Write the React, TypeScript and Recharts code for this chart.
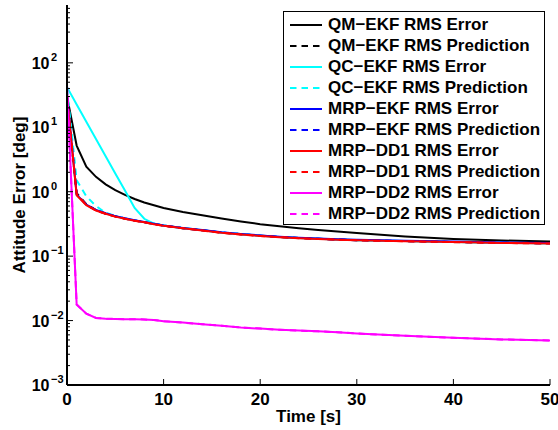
import { Line, LineChart, XAxis, YAxis, Legend } from "recharts"

// time samples [s]
const T = [0, 1, 2, 3, 4, 5, 6, 7, 8, 9, 10, 12, 14, 16, 18, 20, 22, 24, 26, 28, 30, 35, 40, 45, 50]

// RMS attitude errors / predictions [deg]
const qmErr = [30, 5.2, 2.45, 1.7, 1.3, 1.06, 0.89, 0.77, 0.68, 0.615, 0.56, 0.485, 0.43, 0.385, 0.345, 0.313, 0.292, 0.272, 0.255, 0.241, 0.228, 0.202, 0.185, 0.175, 0.168]
const qmPred = [28, 0.95, 0.64, 0.52, 0.455, 0.415, 0.382, 0.357, 0.336, 0.316, 0.298, 0.272, 0.252, 0.232, 0.219, 0.208, 0.198, 0.191, 0.186, 0.181, 0.177, 0.171, 0.166, 0.161, 0.158]
const qcErr = [42, 22.6, 12.2, 6.6, 3.56, 1.92, 1.04, 0.56, 0.38, 0.32, 0.3, 0.272, 0.252, 0.232, 0.219, 0.208, 0.198, 0.191, 0.186, 0.181, 0.177, 0.171, 0.166, 0.161, 0.158]
const qcPred = [40, 1.5, 0.85, 0.6, 0.47, 0.42, 0.385, 0.358, 0.337, 0.317, 0.299, 0.273, 0.253, 0.233, 0.22, 0.208, 0.198, 0.191, 0.186, 0.181, 0.177, 0.171, 0.166, 0.161, 0.158]
const ekfErr = [31, 0.9, 0.63, 0.52, 0.462, 0.418, 0.386, 0.36, 0.339, 0.318, 0.3, 0.274, 0.254, 0.234, 0.221, 0.21, 0.2, 0.193, 0.188, 0.183, 0.179, 0.173, 0.168, 0.163, 0.16]
const ekfPred = [29, 0.92, 0.63, 0.515, 0.458, 0.414, 0.383, 0.357, 0.336, 0.316, 0.298, 0.272, 0.252, 0.232, 0.219, 0.208, 0.198, 0.191, 0.186, 0.181, 0.177, 0.171, 0.166, 0.161, 0.158]
const dd1Err = [30, 0.88, 0.62, 0.51, 0.455, 0.41, 0.38, 0.355, 0.335, 0.313, 0.295, 0.27, 0.25, 0.23, 0.217, 0.206, 0.197, 0.19, 0.185, 0.18, 0.176, 0.17, 0.165, 0.16, 0.157]
const dd1Pred = [29, 0.93, 0.62, 0.51, 0.455, 0.41, 0.38, 0.355, 0.335, 0.313, 0.295, 0.27, 0.25, 0.23, 0.217, 0.206, 0.197, 0.19, 0.185, 0.18, 0.176, 0.17, 0.165, 0.16, 0.157]
const dd2Err = [44, 0.0178, 0.0128, 0.011, 0.0107, 0.0106, 0.0105, 0.0105, 0.0104, 0.0102, 0.0098, 0.0093, 0.0088, 0.0083, 0.0078, 0.0075, 0.0072, 0.007, 0.0068, 0.0066, 0.0063, 0.0058, 0.0054, 0.0051, 0.0049]
const dd2Pred = [44, 0.0178, 0.0128, 0.011, 0.0107, 0.0106, 0.0105, 0.0105, 0.0104, 0.0102, 0.0098, 0.0093, 0.0088, 0.0083, 0.0078, 0.0075, 0.0072, 0.007, 0.0068, 0.0066, 0.0063, 0.0058, 0.0054, 0.0051, 0.0049]

const X_TICKS = [0, 10, 20, 30, 40, 50]
const Y_MAJOR = [0.001, 0.01, 0.1, 1, 10, 100]
const Y_MAX = 790

const series = [
  { key: "qmErr", name: "QM\u2212EKF RMS Error", color: "#000000", dashed: false, values: qmErr },
  { key: "qmPred", name: "QM\u2212EKF RMS Prediction", color: "#000000", dashed: true, values: qmPred },
  { key: "qcErr", name: "QC\u2212EKF RMS Error", color: "#00ffff", dashed: false, values: qcErr },
  { key: "qcPred", name: "QC\u2212EKF RMS Prediction", color: "#00ffff", dashed: true, values: qcPred },
  { key: "ekfErr", name: "MRP\u2212EKF RMS Error", color: "#0000ff", dashed: false, values: ekfErr },
  { key: "ekfPred", name: "MRP\u2212EKF RMS Prediction", color: "#0000ff", dashed: true, values: ekfPred },
  { key: "dd1Err", name: "MRP\u2212DD1 RMS Error", color: "#ff0000", dashed: false, values: dd1Err },
  { key: "dd1Pred", name: "MRP\u2212DD1 RMS Prediction", color: "#ff0000", dashed: true, values: dd1Pred },
  { key: "dd2Err", name: "MRP\u2212DD2 RMS Error", color: "#ff00ff", dashed: false, values: dd2Err },
  { key: "dd2Pred", name: "MRP\u2212DD2 RMS Prediction", color: "#ff00ff", dashed: true, values: dd2Pred },
]

const data = T.map((t, i) => {
  const row: Record<string, number> = { t }
  series.forEach((s) => (row[s.key] = s.values[i]))
  return row
})

// log axis ticks: decades plus 2..9 minor ticks
const yTicks: number[] = []
Y_MAJOR.forEach((d) => {
  for (let m = 1; m <= 9; m++) {
    const v = d * m
    if (v <= Y_MAX) yTicks.push(v)
  }
})

const FONT = "'Liberation Sans', Arial, Helvetica, sans-serif"
const DASH = "6.5 5"

const isMajor = (v: number) => Math.abs(Math.log10(v) - Math.round(Math.log10(v))) < 1e-6

function LeftTick(props: any) {
  const { x, y, payload } = props
  const v = payload.value
  const major = isMajor(v)
  const e = Math.round(Math.log10(v))
  return (
    <g>
      <line x1={x} x2={x + (major ? 6 : 3)} y1={y} y2={y} stroke="#000" strokeWidth={1} />
      {major && (
        <>
          <text x={x - 17.5} y={y + 6} textAnchor="end" fontSize={16} fontWeight="bold" fill="#000" fontFamily={FONT}>
            10
          </text>
          <text x={x - 16} y={y - 2} textAnchor="start" fontSize={11} fontWeight="bold" fill="#000" fontFamily={FONT}>
            {e < 0 ? "\u2212" + Math.abs(e) : String(e)}
          </text>
        </>
      )}
    </g>
  )
}

function RightTick(props: any) {
  const { x, y, payload } = props
  const major = isMajor(payload.value)
  return <line x1={x} x2={x - (major ? 6 : 3)} y1={y} y2={y} stroke="#000" strokeWidth={1} />
}

function BottomTick(props: any) {
  const { x, y, payload } = props
  return (
    <g>
      <line x1={x} x2={x} y1={y} y2={y - 6} stroke="#000" strokeWidth={1} />
      <text x={x} y={y + 20} textAnchor="middle" fontSize={17} fontWeight="bold" fill="#000" fontFamily={FONT}>
        {payload.value}
      </text>
    </g>
  )
}

function TopTick(props: any) {
  const { x, y } = props
  return <line x1={x} x2={x} y1={y} y2={y + 6} stroke="#000" strokeWidth={1} />
}

function LegendBox() {
  return (
    <div
      style={{
        border: "1px solid #000",
        background: "#fff",
        width: 262,
        height: 214,
        boxSizing: "border-box",
        paddingTop: 2,
        fontFamily: FONT,
        fontWeight: "bold",
        fontSize: 17,
        color: "#000",
      }}
    >
      {series.map((s) => (
        <div key={s.key} style={{ display: "flex", alignItems: "center", height: 21.1, whiteSpace: "nowrap" }}>
          <svg width={44} height={10} style={{ flex: "none" }}>
            <line x1={6} x2={38} y1={5} y2={5} stroke={s.color} strokeWidth={2} strokeDasharray={s.dashed ? DASH : undefined} />
          </svg>
          <span>{s.name}</span>
        </div>
      ))}
    </div>
  )
}

export default function App() {
  return (
    <div style={{ position: "absolute", left: 0, top: 0, background: "#fff", fontFamily: FONT }}>
      <LineChart width={558} height={430} data={data} margin={{ top: 5, right: 8, left: 0, bottom: 0 }}>
        <XAxis
          dataKey="t"
          type="number"
          domain={[0, 50]}
          ticks={X_TICKS}
          interval={0}
          height={45}
          tickSize={0}
          tickMargin={0}
          tick={<BottomTick />}
          tickLine={false}
          axisLine={{ stroke: "#000", strokeWidth: 2 }}
          label={(p: any) => (
            <text
              x={p.viewBox.x + p.viewBox.width / 2}
              y={p.viewBox.y + 37}
              textAnchor="middle"
              fontSize={17}
              fontWeight="bold"
              fontFamily={FONT}
              fill="#000"
            >
              Time [s]
            </text>
          )}
        />
        <XAxis
          xAxisId="top"
          orientation="top"
          dataKey="t"
          type="number"
          domain={[0, 50]}
          ticks={X_TICKS}
          interval={0}
          height={0}
          tickSize={0}
          tickMargin={0}
          tick={<TopTick />}
          tickLine={false}
          axisLine={{ stroke: "#000", strokeWidth: 2 }}
        />
        <YAxis
          type="number"
          scale="log"
          domain={[0.001, Y_MAX]}
          allowDataOverflow
          ticks={yTicks}
          interval={0}
          width={67}
          tickSize={0}
          tickMargin={0}
          tick={<LeftTick />}
          tickLine={false}
          axisLine={{ stroke: "#000", strokeWidth: 2 }}
          label={(p: any) => {
            const cx = p.viewBox.x + 24.5
            const cy = p.viewBox.y + p.viewBox.height / 2
            return (
              <text
                x={cx}
                y={cy}
                transform={`rotate(-90 ${cx} ${cy})`}
                textAnchor="middle"
                fontSize={17}
                fontWeight="bold"
                fontFamily={FONT}
                fill="#000"
              >
                Attitude Error [deg]
              </text>
            )
          }}
        />
        <YAxis
          yAxisId="right"
          orientation="right"
          type="number"
          scale="log"
          domain={[0.001, Y_MAX]}
          allowDataOverflow
          ticks={yTicks}
          interval={0}
          width={0}
          tickSize={0}
          tickMargin={0}
          tick={<RightTick />}
          tickLine={false}
          axisLine={{ stroke: "#000", strokeWidth: 2 }}
        />
        {series.map((s) => (
          <Line
            key={s.key}
            type="linear"
            dataKey={s.key}
            name={s.name}
            stroke={s.color}
            strokeWidth={2}
            strokeDasharray={s.dashed ? DASH : undefined}
            dot={false}
            activeDot={false}
            isAnimationActive={false}
          />
        ))}
        <Legend
          layout="vertical"
          align="center"
          verticalAlign="middle"
          content={() => <LegendBox />}
          wrapperStyle={{ left: 283, top: 11, width: 262, height: 214 }}
        />
      </LineChart>
    </div>
  )
}
